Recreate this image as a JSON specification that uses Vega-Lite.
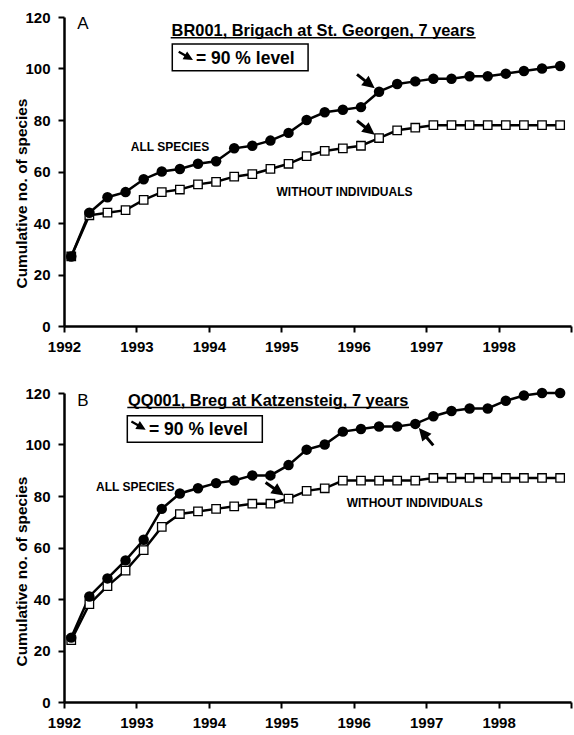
{
  "$schema": "https://vega.github.io/schema/vega-lite/v6.json",
  "padding": {"left": 14, "top": 10, "right": 2, "bottom": 5},
  "bounds": "flush",
  "spacing": 67,
  "config": {
    "font": "Liberation Sans",
    "view": {"stroke": null},
    "axis": {
      "domainColor": "black", "domainWidth": 2.5, "tickColor": "black", "tickWidth": 2, "tickSize": 6,
      "labelFont": "Liberation Sans", "labelFontWeight": "bold", "labelFontSize": 15, "labelColor": "black",
      "grid": false, "titleFont": "Liberation Sans", "titleFontWeight": "bold", "titleFontSize": 15.4, "titleColor": "black",
      "labelOverlap": false
    }
  },
  "datasets": {
    "series": [
      {"panel":"A","series":"all","year":1992.1,"count":27},{"panel":"A","series":"all","year":1992.35,"count":44},{"panel":"A","series":"all","year":1992.6,"count":50},{"panel":"A","series":"all","year":1992.85,"count":52},{"panel":"A","series":"all","year":1993.1,"count":57},{"panel":"A","series":"all","year":1993.35,"count":60},{"panel":"A","series":"all","year":1993.6,"count":61},{"panel":"A","series":"all","year":1993.85,"count":63},{"panel":"A","series":"all","year":1994.1,"count":64},{"panel":"A","series":"all","year":1994.35,"count":69},{"panel":"A","series":"all","year":1994.6,"count":70},{"panel":"A","series":"all","year":1994.85,"count":72},{"panel":"A","series":"all","year":1995.1,"count":75},{"panel":"A","series":"all","year":1995.35,"count":80},{"panel":"A","series":"all","year":1995.6,"count":83},{"panel":"A","series":"all","year":1995.85,"count":84},{"panel":"A","series":"all","year":1996.1,"count":85},{"panel":"A","series":"all","year":1996.35,"count":91},{"panel":"A","series":"all","year":1996.6,"count":94},{"panel":"A","series":"all","year":1996.85,"count":95},{"panel":"A","series":"all","year":1997.1,"count":96},{"panel":"A","series":"all","year":1997.35,"count":96},{"panel":"A","series":"all","year":1997.6,"count":97},{"panel":"A","series":"all","year":1997.85,"count":97},{"panel":"A","series":"all","year":1998.1,"count":98},{"panel":"A","series":"all","year":1998.35,"count":99},{"panel":"A","series":"all","year":1998.6,"count":100},{"panel":"A","series":"all","year":1998.85,"count":101},
      {"panel":"A","series":"without","year":1992.1,"count":27},{"panel":"A","series":"without","year":1992.35,"count":43},{"panel":"A","series":"without","year":1992.6,"count":44},{"panel":"A","series":"without","year":1992.85,"count":45},{"panel":"A","series":"without","year":1993.1,"count":49},{"panel":"A","series":"without","year":1993.35,"count":52},{"panel":"A","series":"without","year":1993.6,"count":53},{"panel":"A","series":"without","year":1993.85,"count":55},{"panel":"A","series":"without","year":1994.1,"count":56},{"panel":"A","series":"without","year":1994.35,"count":58},{"panel":"A","series":"without","year":1994.6,"count":59},{"panel":"A","series":"without","year":1994.85,"count":61},{"panel":"A","series":"without","year":1995.1,"count":63},{"panel":"A","series":"without","year":1995.35,"count":66},{"panel":"A","series":"without","year":1995.6,"count":68},{"panel":"A","series":"without","year":1995.85,"count":69},{"panel":"A","series":"without","year":1996.1,"count":70},{"panel":"A","series":"without","year":1996.35,"count":73},{"panel":"A","series":"without","year":1996.6,"count":76},{"panel":"A","series":"without","year":1996.85,"count":77},{"panel":"A","series":"without","year":1997.1,"count":78},{"panel":"A","series":"without","year":1997.35,"count":78},{"panel":"A","series":"without","year":1997.6,"count":78},{"panel":"A","series":"without","year":1997.85,"count":78},{"panel":"A","series":"without","year":1998.1,"count":78},{"panel":"A","series":"without","year":1998.35,"count":78},{"panel":"A","series":"without","year":1998.6,"count":78},{"panel":"A","series":"without","year":1998.85,"count":78},
      {"panel":"B","series":"all","year":1992.1,"count":25},{"panel":"B","series":"all","year":1992.35,"count":41},{"panel":"B","series":"all","year":1992.6,"count":48},{"panel":"B","series":"all","year":1992.85,"count":55},{"panel":"B","series":"all","year":1993.1,"count":63},{"panel":"B","series":"all","year":1993.35,"count":75},{"panel":"B","series":"all","year":1993.6,"count":81},{"panel":"B","series":"all","year":1993.85,"count":83},{"panel":"B","series":"all","year":1994.1,"count":85},{"panel":"B","series":"all","year":1994.35,"count":86},{"panel":"B","series":"all","year":1994.6,"count":88},{"panel":"B","series":"all","year":1994.85,"count":88},{"panel":"B","series":"all","year":1995.1,"count":92},{"panel":"B","series":"all","year":1995.35,"count":98},{"panel":"B","series":"all","year":1995.6,"count":100},{"panel":"B","series":"all","year":1995.85,"count":105},{"panel":"B","series":"all","year":1996.1,"count":106},{"panel":"B","series":"all","year":1996.35,"count":107},{"panel":"B","series":"all","year":1996.6,"count":107},{"panel":"B","series":"all","year":1996.85,"count":108},{"panel":"B","series":"all","year":1997.1,"count":111},{"panel":"B","series":"all","year":1997.35,"count":113},{"panel":"B","series":"all","year":1997.6,"count":114},{"panel":"B","series":"all","year":1997.85,"count":114},{"panel":"B","series":"all","year":1998.1,"count":117},{"panel":"B","series":"all","year":1998.35,"count":119},{"panel":"B","series":"all","year":1998.6,"count":120},{"panel":"B","series":"all","year":1998.85,"count":120},
      {"panel":"B","series":"without","year":1992.1,"count":24},{"panel":"B","series":"without","year":1992.35,"count":38},{"panel":"B","series":"without","year":1992.6,"count":45},{"panel":"B","series":"without","year":1992.85,"count":51},{"panel":"B","series":"without","year":1993.1,"count":59},{"panel":"B","series":"without","year":1993.35,"count":68},{"panel":"B","series":"without","year":1993.6,"count":73},{"panel":"B","series":"without","year":1993.85,"count":74},{"panel":"B","series":"without","year":1994.1,"count":75},{"panel":"B","series":"without","year":1994.35,"count":76},{"panel":"B","series":"without","year":1994.6,"count":77},{"panel":"B","series":"without","year":1994.85,"count":77},{"panel":"B","series":"without","year":1995.1,"count":79},{"panel":"B","series":"without","year":1995.35,"count":82},{"panel":"B","series":"without","year":1995.6,"count":83},{"panel":"B","series":"without","year":1995.85,"count":86},{"panel":"B","series":"without","year":1996.1,"count":86},{"panel":"B","series":"without","year":1996.35,"count":86},{"panel":"B","series":"without","year":1996.6,"count":86},{"panel":"B","series":"without","year":1996.85,"count":86},{"panel":"B","series":"without","year":1997.1,"count":87},{"panel":"B","series":"without","year":1997.35,"count":87},{"panel":"B","series":"without","year":1997.6,"count":87},{"panel":"B","series":"without","year":1997.85,"count":87},{"panel":"B","series":"without","year":1998.1,"count":87},{"panel":"B","series":"without","year":1998.35,"count":87},{"panel":"B","series":"without","year":1998.6,"count":87},{"panel":"B","series":"without","year":1998.85,"count":87}
    ],
    "arrows": [
      {"panel":"A","series":"all","approach":"upper-left","year":1996.35,"count":91},
      {"panel":"A","series":"without","approach":"upper-left","year":1996.35,"count":73},
      {"panel":"B","series":"without","approach":"upper-left","year":1995.1,"count":79},
      {"panel":"B","series":"all","approach":"lower-right","year":1996.85,"count":108}
    ],
    "texts": [
      {"panel":"A","role":"letter","text":"A","year":1992.262,"count":117.1},
      {"panel":"A","role":"title","text":"BR001, Brigach at St. Georgen, 7 years","year":1995.58,"count":112.7},
      {"panel":"A","role":"legend","text":"= 90 % level","year":1993.822,"count":101.75},
      {"panel":"A","role":"series","text":"ALL SPECIES","year":1993.463,"count":69.5},
      {"panel":"A","role":"series","text":"WITHOUT INDIVIDUALS","year":1995.873,"count":52.0},
      {"panel":"B","role":"letter","text":"B","year":1992.262,"count":116.7},
      {"panel":"B","role":"title","text":"QQ001, Breg at Katzensteig, 7 years","year":1994.819,"count":115.07},
      {"panel":"B","role":"legend","text":"= 90 % level","year":1993.174,"count":103.69},
      {"panel":"B","role":"series","text":"ALL SPECIES","year":1992.984,"count":83.38},
      {"panel":"B","role":"series","text":"WITHOUT INDIVIDUALS","year":1996.842,"count":77.28}
    ],
    "boxes": [
      {"panel":"A","year":1993.495,"year2":1995.37,"count":109.51,"count2":99.15},
      {"panel":"B","year":1992.874,"year2":1994.738,"count":111.19,"count2":100.85}
    ],
    "underlines": [
      {"panel":"A","year":1993.473,"year2":1997.684,"count":111.9},
      {"panel":"B","year":1992.874,"year2":1996.763,"count":114.37}
    ],
    "icons": [
      {"panel":"A","year":1993.781,"count":103.3},
      {"panel":"B","year":1993.128,"count":105.75}
    ]
  },
  "vconcat": [
    {
      "width": 507, "height": 309,
      "encoding": {
        "x": {"field": "year", "type": "quantitative", "scale": {"domain": [1992, 1999], "nice": false, "zero": false},
              "axis": {"values": [1992,1993,1994,1995,1996,1997,1998,1999], "labelExpr": "datum.value == 1999 ? '' : format(datum.value, 'd')", "title": null, "labelFlush": false, "labelPadding": 7}},
        "y": {"field": "count", "type": "quantitative", "scale": {"domain": [0, 120], "nice": false},
              "axis": {"values": [0,20,40,60,80,100,120], "title": "Cumulative no. of species", "labelPadding": 8, "titleX": -38, "titleY": 176, "titleBaseline": "alphabetic"}}
      },
      "layer": [
        {"data": {"name": "boxes"}, "transform": [{"filter": "datum.panel == 'A'"}],
         "mark": {"type": "rect", "fill": "white", "stroke": "black", "strokeWidth": 1.5},
         "encoding": {"x2": {"field": "year2"}, "y2": {"field": "count2"}}},
        {"data": {"name": "underlines"}, "transform": [{"filter": "datum.panel == 'A'"}],
         "mark": {"type": "rule", "stroke": "black", "strokeWidth": 1.5},
         "encoding": {"x2": {"field": "year2"}}},
        {"data": {"name": "series"}, "transform": [{"filter": "datum.panel == 'A'"}],
         "mark": {"type": "line", "color": "black", "strokeWidth": 2.5},
         "encoding": {"detail": {"field": "series"}}},
        {"data": {"name": "series"}, "transform": [{"filter": "datum.panel == 'A' && datum.series == 'without'"}],
         "mark": {"type": "point", "shape": "square", "filled": true, "fill": "white", "stroke": "black", "strokeWidth": 1.3, "size": 72, "opacity": 1}},
        {"data": {"name": "series"}, "transform": [{"filter": "datum.panel == 'A' && datum.series == 'all'"}],
         "mark": {"type": "point", "shape": "circle", "filled": true, "color": "black", "size": 110, "opacity": 1}},
        {"data": {"name": "arrows"}, "transform": [{"filter": "datum.panel == 'A' && datum.approach == 'upper-left'"}],
         "mark": {"type": "point", "shape": "M-0.55,0L-1.8,-0.6L-1.8,-0.15L-2.8,-0.15L-2.8,0.15L-1.8,0.15L-1.8,0.6Z", "filled": true, "color": "black", "size": 400, "angle": 38, "opacity": 1}},
        {"data": {"name": "icons"}, "transform": [{"filter": "datum.panel == 'A'"}],
         "mark": {"type": "point", "shape": "M0,0L-1.25,-0.6L-1.25,-0.15L-2.2,-0.15L-2.2,0.15L-1.25,0.15L-1.25,0.6Z", "filled": true, "color": "black", "size": 225, "angle": 30, "opacity": 1}},
        {"data": {"name": "texts"}, "transform": [{"filter": "datum.panel == 'A' && datum.role == 'letter'"}],
         "mark": {"type": "text", "font": "Liberation Sans", "fontSize": 17, "align": "center", "baseline": "middle", "color": "black"},
         "encoding": {"text": {"field": "text"}}},
        {"data": {"name": "texts"}, "transform": [{"filter": "datum.panel == 'A' && datum.role == 'title'"}],
         "mark": {"type": "text", "font": "Liberation Sans", "fontSize": 16.4, "fontWeight": "bold", "align": "center", "baseline": "alphabetic", "color": "black"},
         "encoding": {"text": {"field": "text"}}},
        {"data": {"name": "texts"}, "transform": [{"filter": "datum.panel == 'A' && datum.role == 'legend'"}],
         "mark": {"type": "text", "font": "Liberation Sans", "fontSize": 17.5, "fontWeight": "bold", "align": "left", "baseline": "alphabetic", "color": "black"},
         "encoding": {"text": {"field": "text"}}},
        {"data": {"name": "texts"}, "transform": [{"filter": "datum.panel == 'A' && datum.role == 'series'"}],
         "mark": {"type": "text", "font": "Liberation Sans", "fontSize": 12, "fontWeight": "bold", "align": "center", "baseline": "middle", "color": "black"},
         "encoding": {"text": {"field": "text"}}}
      ]
    },
    {
      "width": 507, "height": 309,
      "encoding": {
        "x": {"field": "year", "type": "quantitative", "scale": {"domain": [1992, 1999], "nice": false, "zero": false},
              "axis": {"values": [1992,1993,1994,1995,1996,1997,1998,1999], "labelExpr": "datum.value == 1999 ? '' : format(datum.value, 'd')", "title": null, "labelFlush": false, "labelPadding": 7}},
        "y": {"field": "count", "type": "quantitative", "scale": {"domain": [0, 120], "nice": false},
              "axis": {"values": [0,20,40,60,80,100,120], "title": "Cumulative no. of species", "labelPadding": 8, "titleX": -38, "titleY": 178, "titleBaseline": "alphabetic"}}
      },
      "layer": [
        {"data": {"name": "boxes"}, "transform": [{"filter": "datum.panel == 'B'"}],
         "mark": {"type": "rect", "fill": "white", "stroke": "black", "strokeWidth": 1.5},
         "encoding": {"x2": {"field": "year2"}, "y2": {"field": "count2"}}},
        {"data": {"name": "underlines"}, "transform": [{"filter": "datum.panel == 'B'"}],
         "mark": {"type": "rule", "stroke": "black", "strokeWidth": 1.5},
         "encoding": {"x2": {"field": "year2"}}},
        {"data": {"name": "series"}, "transform": [{"filter": "datum.panel == 'B'"}],
         "mark": {"type": "line", "color": "black", "strokeWidth": 2.5},
         "encoding": {"detail": {"field": "series"}}},
        {"data": {"name": "series"}, "transform": [{"filter": "datum.panel == 'B' && datum.series == 'without'"}],
         "mark": {"type": "point", "shape": "square", "filled": true, "fill": "white", "stroke": "black", "strokeWidth": 1.3, "size": 72, "opacity": 1}},
        {"data": {"name": "series"}, "transform": [{"filter": "datum.panel == 'B' && datum.series == 'all'"}],
         "mark": {"type": "point", "shape": "circle", "filled": true, "color": "black", "size": 110, "opacity": 1}},
        {"data": {"name": "arrows"}, "transform": [{"filter": "datum.panel == 'B' && datum.approach == 'upper-left'"}],
         "mark": {"type": "point", "shape": "M-0.55,0L-1.8,-0.6L-1.8,-0.15L-2.8,-0.15L-2.8,0.15L-1.8,0.15L-1.8,0.6Z", "filled": true, "color": "black", "size": 400, "angle": 35, "opacity": 1}},
        {"data": {"name": "arrows"}, "transform": [{"filter": "datum.panel == 'B' && datum.approach == 'lower-right'"}],
         "mark": {"type": "point", "shape": "M-0.55,0L-1.8,-0.6L-1.8,-0.15L-2.8,-0.15L-2.8,0.15L-1.8,0.15L-1.8,0.6Z", "filled": true, "color": "black", "size": 400, "angle": 230, "opacity": 1}},
        {"data": {"name": "icons"}, "transform": [{"filter": "datum.panel == 'B'"}],
         "mark": {"type": "point", "shape": "M0,0L-1.25,-0.6L-1.25,-0.15L-2.2,-0.15L-2.2,0.15L-1.25,0.15L-1.25,0.6Z", "filled": true, "color": "black", "size": 225, "angle": 30, "opacity": 1}},
        {"data": {"name": "texts"}, "transform": [{"filter": "datum.panel == 'B' && datum.role == 'letter'"}],
         "mark": {"type": "text", "font": "Liberation Sans", "fontSize": 17, "align": "center", "baseline": "middle", "color": "black"},
         "encoding": {"text": {"field": "text"}}},
        {"data": {"name": "texts"}, "transform": [{"filter": "datum.panel == 'B' && datum.role == 'title'"}],
         "mark": {"type": "text", "font": "Liberation Sans", "fontSize": 16.4, "fontWeight": "bold", "align": "center", "baseline": "alphabetic", "color": "black"},
         "encoding": {"text": {"field": "text"}}},
        {"data": {"name": "texts"}, "transform": [{"filter": "datum.panel == 'B' && datum.role == 'legend'"}],
         "mark": {"type": "text", "font": "Liberation Sans", "fontSize": 17.5, "fontWeight": "bold", "align": "left", "baseline": "alphabetic", "color": "black"},
         "encoding": {"text": {"field": "text"}}},
        {"data": {"name": "texts"}, "transform": [{"filter": "datum.panel == 'B' && datum.role == 'series'"}],
         "mark": {"type": "text", "font": "Liberation Sans", "fontSize": 12, "fontWeight": "bold", "align": "center", "baseline": "middle", "color": "black"},
         "encoding": {"text": {"field": "text"}}}
      ]
    }
  ]
}
